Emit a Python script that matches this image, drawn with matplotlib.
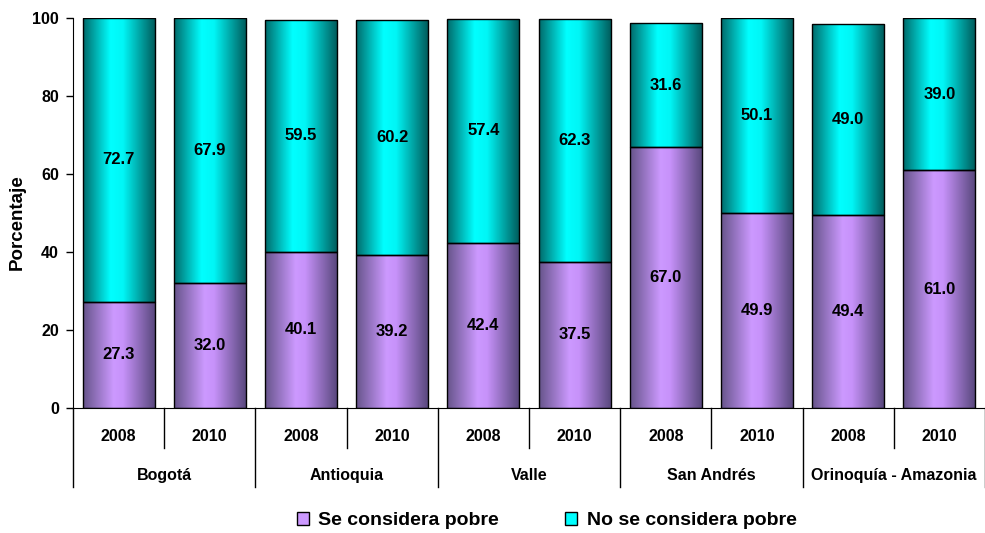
import matplotlib.pyplot as plt
import numpy as np
from matplotlib.colors import LinearSegmentedColormap
from matplotlib.patches import Patch
import matplotlib.transforms as mtransforms

plt.rcParams["font.family"] = ["Liberation Sans", "DejaVu Sans"]
plt.rcParams["font.weight"] = "bold"

regions = ["Bogotá", "Antioquia", "Valle", "San Andrés", "Orinoquía - Amazonia"]
years = ["2008", "2010"] * 5
pobre = [27.3, 32.0, 40.1, 39.2, 42.4, 37.5, 67.0, 49.9, 49.4, 61.0]
no_pobre = [72.7, 67.9, 59.5, 60.2, 57.4, 62.3, 31.6, 50.1, 49.0, 39.0]

cmap_pobre = LinearSegmentedColormap.from_list(
    "pobre", [(0, "#66548a"), (0.42, "#cc99ff"), (0.55, "#c792fa"), (1, "#56467a")]
)
cmap_no = LinearSegmentedColormap.from_list(
    "no_pobre", [(0, "#006a6a"), (0.38, "#00ffff"), (0.55, "#00f6f6"), (1, "#005858")]
)
gradient = np.linspace(0, 1, 256).reshape(1, -1)


def shade(ax, bars, cmap):
    for bar in bars:
        x0, y0 = bar.get_x(), bar.get_y()
        w, h = bar.get_width(), bar.get_height()
        im = ax.imshow(gradient, cmap=cmap, aspect="auto",
                       extent=(x0, x0 + w, y0, y0 + h), zorder=1.5)
        im.set_clip_path(bar)


fig = plt.figure(figsize=(9.85, 5.33), dpi=100)
ax = fig.add_axes([73 / 985, 125 / 533, 912 / 985, 390 / 533])

x = np.arange(len(pobre))
width = 0.79
b1 = ax.bar(x, pobre, width, color="none", edgecolor="black", linewidth=1.0, zorder=2)
b2 = ax.bar(x, no_pobre, width, bottom=pobre, color="none", edgecolor="black",
            linewidth=1.0, zorder=2)
shade(ax, b1, cmap_pobre)
shade(ax, b2, cmap_no)

for i in range(len(pobre)):
    ax.text(x[i], pobre[i] / 2, f"{pobre[i]:.1f}", ha="center", va="center",
            fontsize=12, fontweight="bold", zorder=3)
    ax.text(x[i], pobre[i] + no_pobre[i] / 2, f"{no_pobre[i]:.1f}", ha="center",
            va="center", fontsize=12, fontweight="bold", zorder=3)

ax.set_xlim(-0.5, 9.5)
ax.set_ylim(0, 100)
ax.set_yticks(np.arange(0, 101, 20))
ax.tick_params(axis="y", labelsize=11.5, length=5, width=1, direction="out", pad=5)
ax.set_xticks([])
for lbl in ax.get_yticklabels():
    lbl.set_fontweight("bold")
ax.spines["top"].set_visible(False)
ax.spines["right"].set_visible(False)
ax.text(17 / 985, (533 - 222) / 533, "Porcentaje",
        transform=fig.transFigure, rotation=90, ha="center", va="center",
        fontsize=13.5, fontweight="bold")

# two-level category axis
trans = mtransforms.blended_transform_factory(ax.transData, ax.transAxes)
for i in range(len(years)):
    ax.text(x[i], -0.072, years[i], transform=trans, ha="center", va="center",
            fontsize=11.5, fontweight="bold")
    if i % 2 == 1:
        ax.plot([i - 0.5, i - 0.5], [0, -0.103], transform=trans, color="black",
                linewidth=1, clip_on=False)
for g, name in enumerate(regions):
    ax.text(2 * g + 0.5, -0.172, name, transform=trans, ha="center", va="center",
            fontsize=11.5, fontweight="bold")
for s in np.arange(-0.5, 10, 2):
    ax.plot([s, s], [0, -0.203], transform=trans, color="black", linewidth=1,
            clip_on=False)

handles = [
    Patch(facecolor="#cc99ff", edgecolor="black", label="Se considera pobre"),
    Patch(facecolor="#00ffff", edgecolor="black", label="No se considera pobre"),
]
fig.legend(handles=handles, loc="center", bbox_to_anchor=(0.555, 0.023), ncol=2,
           frameon=False, prop={"size": 14, "weight": "bold"},
           handlelength=0.6, handleheight=0.6, handletextpad=0.5,
           columnspacing=3.4)

fig.savefig("out.png", dpi=100)
